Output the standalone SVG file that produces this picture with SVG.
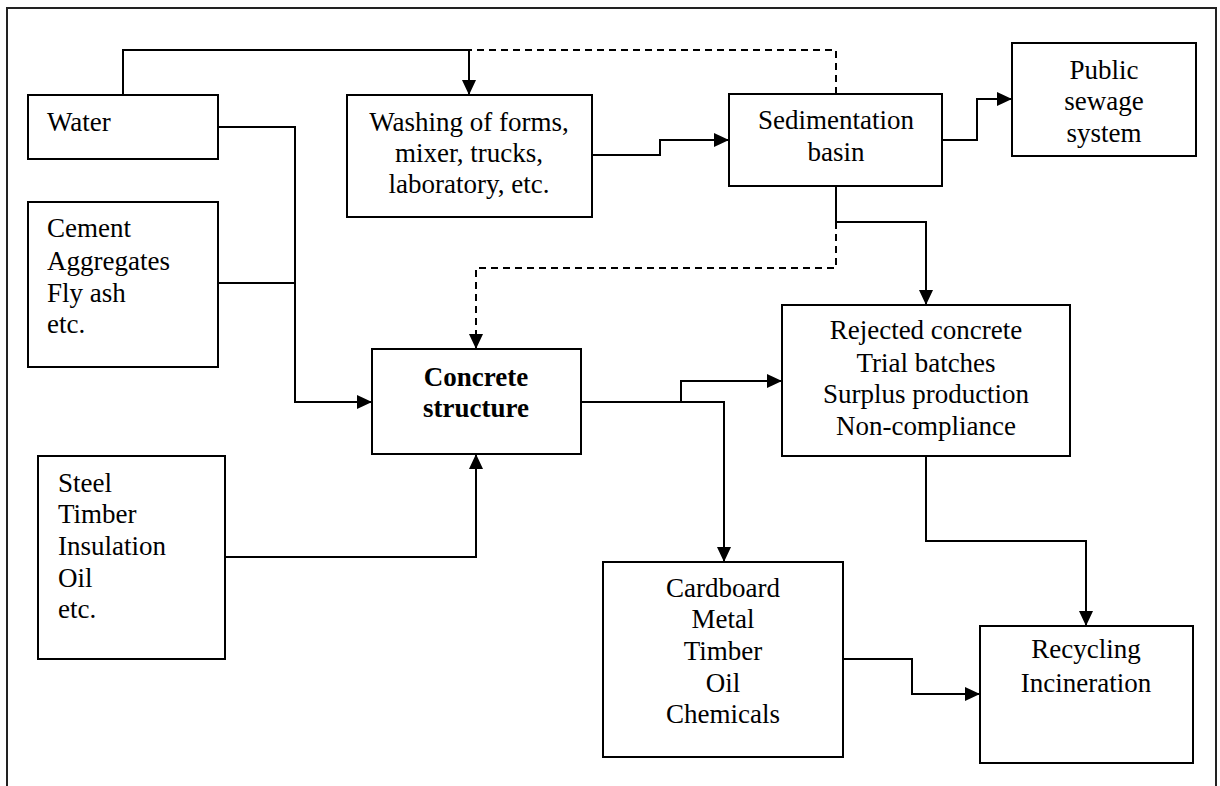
<svg xmlns="http://www.w3.org/2000/svg" width="1220" height="786" viewBox="0 0 1220 786">
<defs>
<style>
.box{fill:#fff;stroke:#000;stroke-width:2}
.ln{fill:none;stroke:#000;stroke-width:2}
.frame{fill:none;stroke:#222;stroke-width:2}
.dash{fill:none;stroke:#000;stroke-width:2;stroke-dasharray:7 5}
text{font-family:"Liberation Serif","Times New Roman",serif;font-size:27px;fill:#000}
.c{text-anchor:middle}
.b{font-weight:bold}
</style>
<marker id="ah" markerWidth="15" markerHeight="14" refX="15" refY="7" orient="auto" markerUnits="userSpaceOnUse"><path d="M0,0 L15,7 L0,14 z" fill="#000"/></marker>
</defs>
<rect width="1220" height="786" fill="#fff"/>
<path class="frame" d="M7,786 V8 H1216 V786"/>
<g id="connectors">
<path class="ln" d="M123,95 V50 H469 V95" marker-end="url(#ah)"/>
<path class="dash" d="M836,94 V50 H469"/>
<path class="ln" d="M218,127 H295 V402 H372" marker-end="url(#ah)"/>
<path class="ln" d="M218,283 H295"/>
<path class="ln" d="M225,557 H476 V454" marker-end="url(#ah)"/>
<path class="ln" d="M592,155 H660 V140 H729" marker-end="url(#ah)"/>
<path class="ln" d="M942,140 H977 V99 H1012" marker-end="url(#ah)"/>
<path class="ln" d="M836,186 V222 H926 V305" marker-end="url(#ah)"/>
<path class="dash" d="M836,222 V268 H476 V349" marker-end="url(#ah)"/>
<path class="ln" d="M581,402 H724 V562" marker-end="url(#ah)"/>
<path class="ln" d="M681,402 V381 H782" marker-end="url(#ah)"/>
<path class="ln" d="M926,456 V541 H1086 V626" marker-end="url(#ah)"/>
<path class="ln" d="M843,659 H912 V694 H980" marker-end="url(#ah)"/>
</g>
<g id="water"><rect class="box" x="28" y="95" width="190" height="64"/><text x="47" y="131">Water</text></g>
<g id="cement"><rect class="box" x="28" y="202" width="190" height="165"/>
<text x="47" y="237">Cement</text><text x="47" y="270">Aggregates</text><text x="47" y="302">Fly ash</text><text x="47" y="333">etc.</text></g>
<g id="steel"><rect class="box" x="38" y="456" width="187" height="203"/>
<text x="58" y="492">Steel</text><text x="58" y="523">Timber</text><text x="58" y="555">Insulation</text><text x="58" y="587">Oil</text><text x="58" y="618">etc.</text></g>
<g id="washing"><rect class="box" x="347" y="95" width="245" height="122"/>
<text class="c" x="469" y="131">Washing of forms,</text><text class="c" x="469" y="162">mixer, trucks,</text><text class="c" x="469" y="193">laboratory, etc.</text></g>
<g id="sedimentation"><rect class="box" x="729" y="94" width="213" height="92"/>
<text class="c" x="836" y="129">Sedimentation</text><text class="c" x="836" y="161">basin</text></g>
<g id="public"><rect class="box" x="1012" y="43" width="184" height="113"/>
<text class="c" x="1104" y="79">Public</text><text class="c" x="1104" y="110">sewage</text><text class="c" x="1104" y="142">system</text></g>
<g id="concrete"><rect class="box" x="372" y="349" width="209" height="105"/>
<text class="c b" x="476" y="386">Concrete</text><text class="c b" x="476" y="417">structure</text></g>
<g id="rejected"><rect class="box" x="782" y="305" width="288" height="151"/>
<text class="c" x="926" y="339">Rejected concrete</text><text class="c" x="926" y="372">Trial batches</text><text class="c" x="926" y="403">Surplus production</text><text class="c" x="926" y="435">Non-compliance</text></g>
<g id="cardboard"><rect class="box" x="603" y="562" width="240" height="195"/>
<text class="c" x="723" y="597">Cardboard</text><text class="c" x="723" y="628">Metal</text><text class="c" x="723" y="660">Timber</text><text class="c" x="723" y="692">Oil</text><text class="c" x="723" y="723">Chemicals</text></g>
<g id="recycling"><rect class="box" x="980" y="626" width="213" height="137"/>
<text class="c" x="1086" y="658">Recycling</text><text class="c" x="1086" y="692">Incineration</text></g>
</svg>
